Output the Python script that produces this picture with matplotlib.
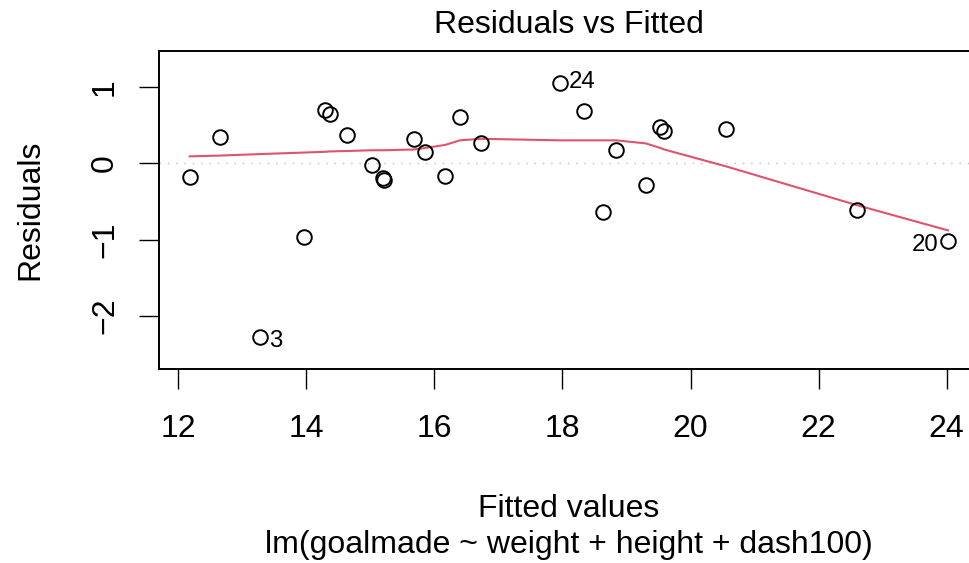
import numpy as np
import matplotlib
matplotlib.use("Agg")
import matplotlib.pyplot as plt

# fitted values and residuals
fitted = [12.18, 12.65, 13.28, 13.97, 14.30, 14.37, 14.63, 15.02, 15.20, 15.22,
          15.68, 15.86, 16.17, 16.40, 16.73, 17.96, 18.33, 18.63, 18.84, 19.30,
          19.53, 19.59, 20.55, 22.60, 24.02]
resid = [-0.18, 0.35, -2.28, -0.97, 0.70, 0.65, 0.37, -0.02, -0.20, -0.22,
         0.32, 0.15, -0.17, 0.60, 0.27, 1.05, 0.68, -0.64, 0.17, -0.29,
         0.47, 0.42, 0.45, -0.61, -1.02]
# lowess smooth at each fitted value
smooth = [0.09, 0.10, 0.12, 0.14, 0.15, 0.155, 0.16, 0.17, 0.17, 0.17,
          0.18, 0.20, 0.24, 0.30, 0.32, 0.30, 0.30, 0.30, 0.30, 0.26,
          0.20, 0.18, -0.04, -0.55, -0.88]
# labelled observations: (id, index into the arrays above, side)
labels = [("24", 15, "right"), ("3", 2, "right"), ("20", 24, "left")]

x_ticks = [12, 14, 16, 18, 20, 22, 24]
y_ticks = [-2, -1, 0, 1]


def extendrange(v, f):
    lo, hi = min(v), max(v)
    d = (hi - lo) * f
    return lo - d, hi + d


plt.rcParams['font.family'] = ['Liberation Sans', 'DejaVu Sans']
W, H = 970, 563
fig = plt.figure(figsize=(W / 100, H / 100), dpi=100)

# plot region as in R: box edge at 159.4 px, x range runs past the right edge of the image
xlim = extendrange(fitted, 0.04)
ylim = extendrange(extendrange(resid, 0.08), 0.04)
left, top, bottom = 159.4, 51, 369.3
px_per_unit = (946.7 - 178.2) / 12
right = left + (xlim[1] - xlim[0]) * px_per_unit
ax = fig.add_axes([left / W, 1 - bottom / H, (right - left) / W, (bottom - top) / H])

ax.axhline(0, color='#BEBEBE', lw=1, linestyle=(0, (1, 5)), zorder=1)
ax.plot(fitted, smooth, color='#DF536B', lw=1.5, zorder=2)
ax.plot(fitted, resid, 'o', mfc='none', mec='black', ms=10.5, mew=1.4, zorder=3)

for lab, i, side in labels:
    dx = 6.5 if side == "right" else -6.5
    dy = -3 if lab != "24" else 1
    ax.annotate(lab, (fitted[i], resid[i]), xytext=(dx, dy), textcoords='offset points',
                ha='left' if side == "right" else 'right', va='center', fontsize=17.3,
                annotation_clip=False)

ax.set_xlim(*xlim)
ax.set_ylim(*ylim)
ax.set_xticks(x_ticks)
ax.set_yticks(y_ticks)
ax.set_yticklabels([str(t).replace('-', '\u2212') for t in y_ticks])
ax.set_xticklabels([str(t) for t in x_ticks])
for s in ax.spines.values():
    s.set_linewidth(1.4)
ax.tick_params(length=14.4, width=1.0, labelsize=23, direction='out')
ax.tick_params(axis='x', pad=18)
ax.tick_params(axis='y', pad=14)
plt.setp(ax.get_yticklabels(), rotation=90, va='center', ha='right')

cx = (left + right) / 2 / W
fig.text(cx, 1 - 33 / H, 'Residuals vs Fitted', ha='center', va='baseline', fontsize=23)
fig.text(cx, 1 - 517 / H, 'Fitted values', ha='center', va='baseline', fontsize=23)
fig.text(cx, 1 - 553 / H, 'lm(goalmade ~ weight + height + dash100)',
         ha='center', va='baseline', fontsize=23)
fig.text(38 / W, 1 - 210 / H, 'Residuals', rotation=90, rotation_mode='anchor',
         ha='center', va='baseline', fontsize=23)

fig.savefig('out.png', dpi=100)
